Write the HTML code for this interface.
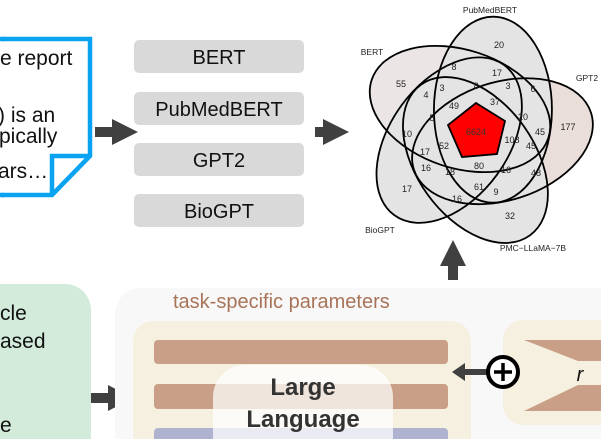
<!DOCTYPE html>
<html><head><meta charset="utf-8"><style>
html,body{margin:0;padding:0;background:#fff;width:601px;height:439px;overflow:hidden;}
svg{display:block;}
text{font-family:"Liberation Sans",sans-serif;}
</style></head><body>
<svg width="601" height="439" viewBox="0 0 601 439" xmlns="http://www.w3.org/2000/svg">
<defs>
<ellipse id="e" cx="460" cy="109" rx="93" ry="59" transform="rotate(18.2 460 109)"/>
</defs>
<!-- document -->
<path d="M2 39 H90 V156 L52 195 H2" fill="#fff" stroke="#0aa3f2" stroke-width="4.5"/>
<path d="M0 39 H4 M0 195 H4" stroke="#0aa3f2" stroke-width="4.5"/>
<path d="M90 156 H52 V195" fill="none" stroke="#0aa3f2" stroke-width="4.5"/>
<g font-size="21" fill="#111">
<text x="0" y="65">e report</text>
<text x="-2" y="122">) is an</text>
<text x="-1" y="143">pically</text>
<text x="-2" y="178">ars…</text>
</g>
<path d="M95 127 H112 V119 L138 132 L112 145 V137 H95 Z" fill="#404040"/>
<g fill="#d9d9d9">
<rect x="134" y="40" width="170" height="33" rx="5"/>
<rect x="134" y="92" width="170" height="33" rx="5"/>
<rect x="134" y="143" width="170" height="33" rx="5"/>
<rect x="134" y="194" width="170" height="33" rx="5"/>
</g>
<g font-size="20" fill="#111" text-anchor="middle">
<text x="219" y="64">BERT</text>
<text x="219" y="116">PubMedBERT</text>
<text x="219" y="167">GPT2</text>
<text x="219" y="218">BioGPT</text>
</g>
<path d="M315 127 H323 V119 L349 132 L323 145 V137 H315 Z" fill="#404040"/>
<!-- venn fills -->
<use href="#e" transform="rotate(144 476 132)" fill="#eadedb"/>
<use href="#e" transform="rotate(0 476 132)" fill="#ebe5e5"/>
<use href="#e" transform="rotate(72 476 132)" fill="#e4e4e4"/>
<use href="#e" transform="rotate(216 476 132)" fill="#e4e4e4"/>
<use href="#e" transform="rotate(288 476 132)" fill="#e4e4e4"/>
<g fill="none" stroke="#000" stroke-width="1.8">
<use href="#e" transform="rotate(0 476 132)"/>
<use href="#e" transform="rotate(72 476 132)"/>
<use href="#e" transform="rotate(144 476 132)"/>
<use href="#e" transform="rotate(216 476 132)"/>
<use href="#e" transform="rotate(288 476 132)"/>
</g>
<polygon points="476,103 505,121 497,154 462,157 448,125" fill="#ff0000" stroke="#000" stroke-width="1.8"/>
<g font-size="8.5" fill="#222" text-anchor="middle">
<text x="490" y="13">PubMedBERT</text>
<text x="372" y="55">BERT</text>
<text x="587" y="81">GPT2</text>
<text x="380" y="233">BioGPT</text>
<text x="533" y="251">PMC−LLaMA−7B</text>
</g>
<g font-size="9" fill="#222" text-anchor="middle">
<text x="499" y="48">20</text><text x="454" y="70">8</text><text x="497" y="76">17</text>
<text x="401" y="87">55</text><text x="426" y="98">4</text><text x="442" y="91">3</text>
<text x="476" y="89">8</text><text x="508" y="89">3</text><text x="533" y="92">6</text>
<text x="454" y="109">49</text><text x="495" y="105">37</text><text x="432" y="121">5</text>
<text x="523" y="120">20</text><text x="568" y="130">177</text>
<text x="476" y="135" fill="#333">6624</text>
<text x="407" y="137">10</text><text x="540" y="135">45</text><text x="512" y="143">108</text>
<text x="531" y="149">45</text><text x="444" y="149">52</text><text x="425" y="155">17</text>
<text x="426" y="171">16</text><text x="450" y="175">18</text><text x="479" y="169">80</text>
<text x="506" y="173">16</text><text x="536" y="176">48</text><text x="407" y="192">17</text>
<text x="479" y="190">61</text><text x="496" y="195">9</text><text x="457" y="202">16</text>
<text x="510" y="219">32</text>
</g>
<path d="M448 280 V266 H440 L453 240 L466 266 H458 V280 Z" fill="#404040"/>
<!-- green box -->
<path d="M0 284 H65 A26 26 0 0 1 91 310 V439 H0 Z" fill="#d2ebda"/>
<g font-size="21" fill="#111">
<text x="0" y="320">cle</text>
<text x="0" y="348">ased</text>
<text x="0" y="432">e</text>
</g>
<path d="M91 393 H108 V385 L133 398 L108 411 V403 H91 Z" fill="#404040"/>
<!-- main panel -->
<path d="M115 439 V314 A26 26 0 0 1 141 288 H601 V439 Z" fill="#f8f8f8"/>
<text x="173" y="308" font-size="20" fill="#a87458">task-specific parameters</text>
<path d="M133 439 V341 A20 20 0 0 1 153 321 H451 A20 20 0 0 1 471 341 V439 Z" fill="#f6f0e0"/>
<rect x="154" y="340" width="294" height="24" rx="4" fill="#c9a087"/>
<rect x="154" y="384" width="294" height="25" rx="4" fill="#c9a087"/>
<path d="M154 439 V432 A4 4 0 0 1 158 428 H444 A4 4 0 0 1 448 432 V439 Z" fill="#b0b3cf"/>
<path d="M213 439 V397 A32 32 0 0 1 245 365 H361 A32 32 0 0 1 393 397 V439 Z" fill="#fff" fill-opacity="0.72"/>
<g font-size="24" font-weight="bold" fill="#333" text-anchor="middle">
<text x="303" y="395">Large</text>
<text x="303" y="427">Language</text>
</g>
<path d="M503 405 V340 A20 20 0 0 1 523 320 H601 V425 H523 A20 20 0 0 1 503 405 Z" fill="#f6f0e0"/>
<polygon points="524,340 601,340 601,361 578,361" fill="#c9a087"/>
<polygon points="578,385 601,385 601,411 524,411" fill="#c9a087"/>
<text x="580" y="381" font-family="Liberation Serif,serif" font-style="italic" font-size="20" fill="#111" text-anchor="middle">r</text>
<path d="M487 369 H465 V363 L452 372 L465 381 V375 H487 Z" fill="#404040"/>
<circle cx="503" cy="372" r="15" fill="#fff" stroke="#000" stroke-width="4"/>
<path d="M503 363 V381 M494 372 H512" stroke="#000" stroke-width="3.5"/>
</svg>
</body></html>
